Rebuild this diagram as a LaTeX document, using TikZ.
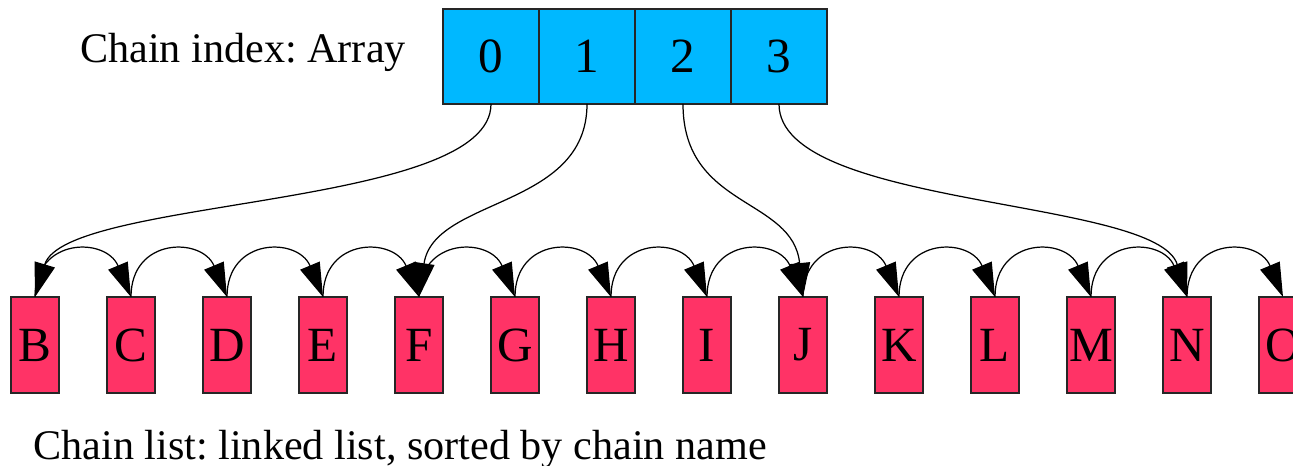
\documentclass[tikz,border=0pt]{standalone}
\usepackage{fontspec}
\setmainfont{Liberation Serif}
\usepackage{xcolor}
\usetikzlibrary{positioning,arrows.meta}

\definecolor{indexblue}{RGB}{0,184,255}
\definecolor{listred}{RGB}{255,51,102}

\frenchspacing

\begin{document}
\begin{tikzpicture}[
	cell/.style={draw=black!85, fill=indexblue, line width=0.35pt, outer sep=0pt, inner sep=0pt,
		minimum width=0.96cm, minimum height=0.95cm, font=\fontsize{14}{16}\selectfont},
	item/.style={draw=black!85, fill=listred, line width=0.35pt, outer sep=0pt, inner sep=0pt,
		minimum width=0.48cm, minimum height=0.96cm, font=\fontsize{14}{16}\selectfont},
	link/.style={-{Triangle[length=0.34cm,width=0.21cm]}, line width=0.35pt},
	caption/.style={font=\fontsize{12}{14}\selectfont}
]
	\newcommand\rowy{1.21}
	\newcommand\gap{0.96}

	\useasboundingbox (0,0) rectangle (12.93,4.66);

	% index array
	\node[cell] (c0) at (4.91,4.095) {0};
	\node[cell, right=0pt of c0] (c1) {1};
	\node[cell, right=0pt of c1] (c2) {2};
	\node[cell, right=0pt of c2] (c3) {3};
	\node[caption] (idxlabel) at (2.43,4.14) {Chain index: Array};

	% chain list
	\foreach \n [count=\i from 0] in {B,C,D,E,F,G,H,I,J,K,L,M,N,O}
		\node[item] (n\n) at (0.35+\gap*\i,\rowy) {\n};
	\node[caption] (listlabel) at (4.00,0.17) {Chain list: linked list, sorted by chain name};

	% next pointers
	\foreach \a/\b in {B/C,C/D,D/E,E/F,F/G,G/H,H/I,I/J,J/K,K/L,L/M,M/N,N/O}
		\draw[link] (n\a.north) .. controls +(0,0.6) and +(-0.25,0.6) .. (n\b.north);

	% array entries into the list
	\draw[link] (c0.south) .. controls +(0,-1.05) and +(0.3,1.0) .. (nB.north);
	\draw[link] (c1.south) .. controls +(0,-1.05) and +(0.15,1.0) .. (nF.north);
	\draw[link] (c2.south) .. controls +(0,-1.05) and +(-0.1,1.0) .. (nJ.north);
	\draw[link] (c3.south) .. controls +(0,-1.05) and +(-0.3,1.0) .. (nN.north);
\end{tikzpicture}
\end{document}
